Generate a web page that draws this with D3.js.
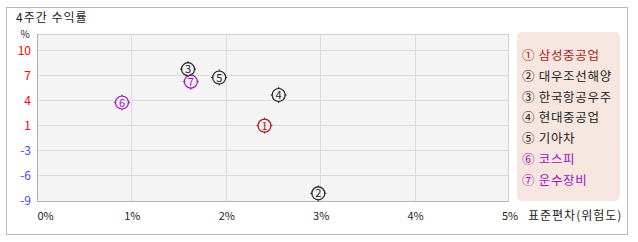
<!DOCTYPE html>
<html>
<head>
<meta charset="utf-8">
<script src="https://cdn.jsdelivr.net/npm/d3@7"></script>
<style>
  body { margin: 0; background: #fff; }
  text { font-family: "Noto Sans CJK KR", "Noto Sans", sans-serif; }
</style>
</head>
<body>
<script>
// data
var names = ["삼성중공업", "대우조선해양", "한국항공우주", "현대중공업", "기아차", "코스피", "운수장비"];
var marks = ["①", "②", "③", "④", "⑤", "⑥", "⑦"];
var risk = [2.41, 2.98, 1.60, 2.56, 1.93, 0.90, 1.63];     // 표준편차 %
var returns = [0.9, -8.2, 7.7, 4.6, 6.7, 3.7, 6.2];         // 4주간 수익률 %
var colors = ["#b01818", "#222", "#222", "#222", "#222", "#a010c0", "#a010c0"];
var xTicks = [0, 1, 2, 3, 4, 5];
var yTicks = [10, 7, 4, 1, -3, -6, -9];

var width = 638, height = 242;
var plot = { left: 37, right: 509, top: 34, bottom: 201 };

var svg = d3.select("body").append("svg")
  .attr("width", width)
  .attr("height", height);

// outer frame
svg.append("rect")
  .attr("x", 6.5).attr("y", 7.5)
  .attr("width", 621).attr("height", 227)
  .attr("fill", "#fff").attr("stroke", "#bbb");

svg.append("text")
  .attr("x", 16).attr("y", 22)
  .attr("font-size", 12)
  .attr("letter-spacing", 1)
  .attr("fill", "#222")
  .text("4주간 수익률");

// scales (y ticks are evenly spaced even though values are not)
var x = d3.scaleLinear().domain([0, 5]).range([plot.left, plot.right]);
var y = d3.scaleLinear()
  .domain(yTicks)
  .range(yTicks.map(function(d, i) { return 50 + i * 25; }));

var g = svg.append("g");

g.append("rect")
  .attr("x", plot.left).attr("y", plot.top)
  .attr("width", plot.right - plot.left).attr("height", plot.bottom - plot.top)
  .attr("fill", "#f4f4f4");

// grid lines
g.selectAll(".gx").data(xTicks.slice(1, -1)).enter().append("line")
  .attr("x1", d => Math.round(x(d)) + 0.5).attr("x2", d => Math.round(x(d)) + 0.5)
  .attr("y1", plot.top).attr("y2", plot.bottom)
  .attr("stroke", "#dcdcdc");

g.selectAll(".gy").data(yTicks.slice(0, -1)).enter().append("line")
  .attr("x1", plot.left).attr("x2", plot.right)
  .attr("y1", d => Math.round(y(d)) + 0.5).attr("y2", d => Math.round(y(d)) + 0.5)
  .attr("stroke", "#dcdcdc");

// plot border
g.append("rect")
  .attr("x", plot.left + 0.5).attr("y", plot.top + 0.5)
  .attr("width", plot.right - plot.left - 1).attr("height", plot.bottom - plot.top)
  .attr("fill", "none").attr("stroke", "#d0d0d0");
g.append("path")
  .attr("d", "M" + (plot.left + 0.5) + "," + plot.top + "V" + (plot.bottom + 0.5) + "H" + plot.right)
  .attr("fill", "none").attr("stroke", "#b4b4b4");

// y tick labels
svg.selectAll(".yl").data(yTicks).enter().append("text")
  .attr("x", 31)
  .attr("y", d => y(d) + 4.5)
  .attr("text-anchor", "end")
  .attr("font-size", 12)
  .attr("fill", d => d > 0 ? "#ff0000" : "#4444ff")
  .text(d => d);

svg.append("text")
  .attr("x", 25).attr("y", 38)
  .attr("text-anchor", "middle")
  .attr("font-size", 10)
  .attr("fill", "#222")
  .text("%");

// x tick labels
svg.selectAll(".xl").data(xTicks).enter().append("text")
  .attr("x", d => d === 0 ? x(d) + 0.5 : x(d) + 1)
  .attr("y", 220)
  .attr("text-anchor", d => d === 0 ? "start" : "middle")
  .attr("font-size", 11)
  .attr("fill", "#222")
  .text(d => d + "%");

svg.append("text")
  .attr("x", 528).attr("y", 220)
  .attr("font-size", 12)
  .attr("letter-spacing", 1)
  .attr("fill", "#222")
  .text("표준편차(위험도)");

// points
var pts = svg.selectAll(".pt").data(names).enter().append("g")
  .attr("transform", (d, i) => "translate(" + x(risk[i]) + "," + y(returns[i]) + ")");

pts.append("circle")
  .attr("r", 6.5)
  .attr("fill", "none")
  .attr("stroke", (d, i) => colors[i])
  .attr("stroke-width", 1.2);

pts.append("path")
  .attr("d", "M0,-8V-6M0,6V8M-8,0H-6M6,0H8")
  .attr("stroke", (d, i) => colors[i])
  .attr("stroke-width", 1);

pts.append("text")
  .attr("text-anchor", "middle")
  .attr("y", 4)
  .attr("font-size", 11)
  .attr("fill", (d, i) => colors[i])
  .text((d, i) => i + 1);

// legend
svg.append("rect")
  .attr("x", 517).attr("y", 32)
  .attr("width", 103).attr("height", 169)
  .attr("rx", 5)
  .attr("fill", "#f5e7e0");

svg.selectAll(".lg").data(names).enter().append("text")
  .attr("x", 522)
  .attr("y", (d, i) => 60 + i * 20.8)
  .attr("font-size", 12.5)
  .attr("letter-spacing", 0.7)
  .attr("fill", (d, i) => colors[i])
  .text((d, i) => marks[i] + " " + d);
</script>
</body>
</html>
